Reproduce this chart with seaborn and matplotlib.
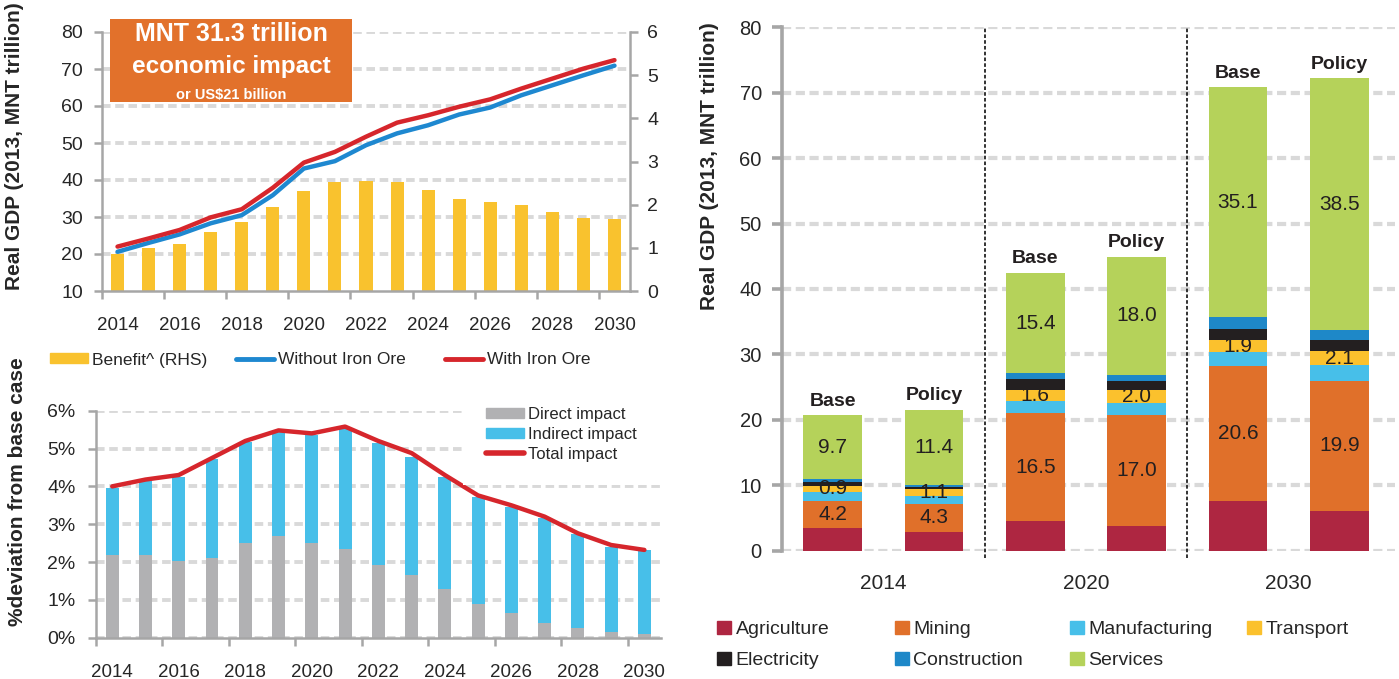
import matplotlib
matplotlib.use('Agg')
import matplotlib.pyplot as plt
from matplotlib.patches import Patch, Rectangle
from matplotlib.lines import Line2D
import seaborn as sns
import pandas as pd

# ---- data ----
years = list(range(2014, 2031))

# top left: real GDP lines (LHS) and benefit bars (RHS)
benefit_rhs = [0.86, 0.99, 1.08, 1.36, 1.60, 1.94, 2.31, 2.52, 2.55, 2.52, 2.34, 2.14, 2.07, 2.00, 1.84, 1.70, 1.67]
gdp_without_iron = [20.6, 23.0, 25.3, 28.3, 30.5, 35.9, 43.1, 45.1, 49.4, 52.6, 54.8, 57.7, 59.6, 62.9, 65.6, 68.3, 70.9]
gdp_with_iron = [22.0, 24.2, 26.5, 29.9, 32.1, 37.9, 44.7, 47.6, 51.7, 55.5, 57.5, 59.8, 61.8, 64.7, 67.4, 70.1, 72.4]

# bottom left: % deviation from base case
direct_impact = [2.18, 2.18, 2.03, 2.10, 2.49, 2.70, 2.49, 2.34, 1.91, 1.67, 1.28, 0.90, 0.66, 0.38, 0.26, 0.14, 0.11]
indirect_impact = [1.78, 1.97, 2.23, 2.62, 2.69, 2.74, 2.87, 3.19, 3.23, 3.11, 2.98, 2.83, 2.80, 2.79, 2.48, 2.27, 2.21]
total_impact = [4.00, 4.18, 4.30, 4.75, 5.20, 5.48, 5.40, 5.58, 5.20, 4.88, 4.30, 3.76, 3.50, 3.20, 2.76, 2.45, 2.32]

# right: sector composition of real GDP
group_years = ['2014', '2020', '2030']
scenarios = ['Base', 'Policy', 'Base', 'Policy', 'Base', 'Policy']
sector_names = ['Agriculture', 'Mining', 'Manufacturing', 'Transport', 'Electricity', 'Construction', 'Services']
agriculture = [3.4, 2.9, 4.5, 3.7, 7.6, 6.1]
mining = [4.2, 4.3, 16.5, 17.0, 20.6, 19.9]
manufacturing = [1.4, 1.1, 1.9, 1.8, 2.1, 2.4]
transport = [0.9, 1.1, 1.6, 2.0, 1.9, 2.1]
electricity = [0.6, 0.4, 1.7, 1.5, 1.7, 1.7]
construction = [0.5, 0.3, 0.9, 0.9, 1.8, 1.5]
services = [9.7, 11.4, 15.4, 18.0, 35.1, 38.5]
labelled_sectors = ['Mining', 'Transport', 'Services']

# ---- colours ----
YELLOW = '#F9C22E'
BLUE = '#1E88D0'
RED = '#D6262C'
GREY = '#B1B1B3'
CYAN = '#47BFE9'
ORANGE = '#E2712B'
GRID = '#D9D9D9'
SPINE = '#A6A6A6'
TXT = '#262626'
sector_colors = ['#AE2641', '#E0702A', '#47BFE9', '#FBC12D', '#231F20', '#1E88C8', '#B5D25A']

sns.set_style('white')
plt.rcParams['font.family'] = ['Liberation Sans', 'DejaVu Sans']
plt.rcParams['text.color'] = TXT

W, H = 1399, 679
fig = plt.figure(figsize=(W / 100, H / 100), dpi=100)


def px_rect(l, t, r, b):
    return [l / W, 1 - b / H, (r - l) / W, (b - t) / H]


def style_year_axis(ax):
    ax.set_xlim(years[0] - 0.5, years[-1] + 0.5)
    ax.set_xticks([y - 0.5 for y in years[::2]], labels=[''] * len(years[::2]))
    ax.set_xticks(years[::2], labels=[str(y) for y in years[::2]], minor=True)
    ax.tick_params(axis='x', which='major', length=6, width=1.8, color=SPINE, direction='out', bottom=True)
    ax.tick_params(axis='x', which='minor', length=0, pad=19, labelsize=13.5, labelcolor=TXT)


def legend_at(handles, labels, x, y, loc, size, **kw):
    # legend block pinned at a pixel position of the figure
    return fig.legend(handles, labels, loc=loc, bbox_to_anchor=(x / W, 1 - y / H),
                      borderaxespad=0, fontsize=size, **kw)


# ================= top left =================
ax_bar = fig.add_axes(px_rect(102, 32, 630, 291))
ax_line = ax_bar.twinx()
ax_bar.yaxis.tick_right()
ax_line.yaxis.tick_left()

sns.barplot(x=years, y=benefit_rhs, native_scale=True, width=0.42, color=YELLOW, saturation=1,
            linewidth=0, errorbar=None, ax=ax_bar, zorder=2)
ax_bar.set_ylim(0, 6)
ax_line.set_ylim(10, 80)
# left-axis gridlines, drawn behind the bars
for v in range(20, 81, 10):
    ax_bar.axhline((v - 10) * 6 / 70, color=GRID, lw=2.8, ls=(0, (2.2, 1.2)), zorder=0)

sns.lineplot(x=years, y=gdp_without_iron, color=BLUE, linewidth=3.2, errorbar=None, ax=ax_line,
             solid_capstyle='round')
sns.lineplot(x=years, y=gdp_with_iron, color=RED, linewidth=3.2, errorbar=None, ax=ax_line,
             solid_capstyle='round')

ax_bar.set_yticks(range(0, 7))
ax_line.set_yticks(range(10, 81, 10))
ax_bar.tick_params(axis='y', right=True, left=False, labelright=True, labelleft=False, length=5.5,
                   width=1.8, color=SPINE, pad=7, labelsize=14, labelcolor=TXT)
ax_line.tick_params(axis='y', left=True, right=False, labelleft=True, labelright=False, length=5.5,
                    width=1.8, color=SPINE, pad=8, labelsize=14, labelcolor=TXT)
style_year_axis(ax_bar)
ax_bar.set_xlabel('')
ax_bar.set_ylabel('')
ax_line.set_ylabel('')
for s in ['left', 'right', 'bottom']:
    ax_bar.spines[s].set_color(SPINE)
    ax_bar.spines[s].set_linewidth(1.8)
ax_bar.spines['top'].set_visible(False)
for s in ax_line.spines.values():
    s.set_visible(False)

top_handles = [Patch(color=YELLOW), Line2D([], [], color=BLUE, lw=3.5), Line2D([], [], color=RED, lw=3.5)]
top_labels = ['Benefit^ (RHS)', 'Without Iron Ore', 'With Iron Ore']
for h, lab, x in zip(top_handles, top_labels, [50, 236, 445]):
    legend_at([h], [lab], x, 360, 'center left', 12.5, frameon=False, borderpad=0, handlelength=2.2,
              handleheight=0.5, handletextpad=0.2)

# orange call-out box
fig.patches.append(Rectangle((110 / W, 1 - 102 / H), 242 / W, 83 / H, transform=fig.transFigure,
                             facecolor=ORANGE, edgecolor='none', zorder=3))
fig.text(231 / W, 1 - 34 / H, 'MNT 31.3 trillion', ha='center', va='center', color='white',
         fontweight='bold', fontsize=18, zorder=4)
fig.text(231 / W, 1 - 67 / H, 'economic impact', ha='center', va='center', color='white',
         fontweight='bold', fontsize=17.5, zorder=4)
fig.text(231 / W, 1 - 95 / H, 'or US\\$21 billion', ha='center', va='center', color='white',
         fontweight='bold', fontsize=10.5, zorder=4)

# ================= bottom left =================
ax_imp = fig.add_axes(px_rect(95.6, 410.7, 661, 637.7))
total_bars = [d + i for d, i in zip(direct_impact, indirect_impact)]
sns.barplot(x=years, y=total_bars, native_scale=True, width=0.39, color=CYAN, saturation=1,
            linewidth=0, errorbar=None, ax=ax_imp, zorder=2)
sns.barplot(x=years, y=direct_impact, native_scale=True, width=0.39, color=GREY, saturation=1,
            linewidth=0, errorbar=None, ax=ax_imp, zorder=2)
sns.lineplot(x=years, y=total_impact, color=RED, linewidth=3.2, errorbar=None, ax=ax_imp,
             solid_capstyle='round', zorder=3)
ax_imp.set_ylim(0, 6)
ax_imp.set_yticks(range(0, 7), labels=[f'{v}%' for v in range(0, 7)])
ax_imp.yaxis.grid(True, color=GRID, lw=2.8, ls=(0, (2.2, 1.2)))
ax_imp.set_axisbelow(True)
ax_imp.tick_params(axis='y', left=True, length=6, width=1.8, color=SPINE, pad=8.5,
                   labelsize=14, labelcolor=TXT)
style_year_axis(ax_imp)
ax_imp.set_xlabel('')
ax_imp.set_ylabel('')
for s in ['left', 'bottom']:
    ax_imp.spines[s].set_color(SPINE)
    ax_imp.spines[s].set_linewidth(1.8)
for s in ['top', 'right']:
    ax_imp.spines[s].set_visible(False)
leg = legend_at([Patch(color=GREY), Patch(color=CYAN), Line2D([], [], color=RED, lw=4)],
                ['Direct impact', 'Indirect impact', 'Total impact'], 463, 384, 'upper left', 12,
                frameon=True, facecolor='white', edgecolor='none', framealpha=1, fancybox=False,
                borderpad=1.4, handlelength=2.25, handleheight=0.55, handletextpad=0.25,
                labelspacing=0.28)
leg.set_zorder(5)

# ================= right =================
ax_gdp = fig.add_axes(px_rect(782, 27.3, 1395, 550.7))
positions = list(range(len(scenarios)))
stack = pd.DataFrame({'Agriculture': agriculture, 'Mining': mining, 'Manufacturing': manufacturing,
                      'Transport': transport, 'Electricity': electricity, 'Construction': construction,
                      'Services': services}, index=positions)
tops = stack.cumsum(axis=1)
for name, color in reversed(list(zip(sector_names, sector_colors))):
    sns.barplot(x=positions, y=tops[name].values, native_scale=True, width=0.58, color=color,
                saturation=1, linewidth=0, errorbar=None, ax=ax_gdp, zorder=2)

for i in positions:
    for name in labelled_sectors:
        val = stack.loc[i, name]
        mid = tops.loc[i, name] - val / 2
        ax_gdp.text(i, mid, f'{val:.1f}', ha='center', va='center', fontsize=15, color='#231F20',
                    zorder=4)
    ax_gdp.annotate(scenarios[i], (i, tops.loc[i, 'Services']), xytext=(0, 4), textcoords='offset points',
                    ha='center', va='bottom', fontweight='bold', fontsize=14, color='#231F20')

# dashed separators between the year groups
for g in range(2, len(positions), 2):
    ax_gdp.axvline(g - 0.5, ymin=-0.014, ymax=1, color='#222222', lw=1.3, ls=(0, (2, 1.2)),
                   clip_on=False, zorder=3)

ax_gdp.set_xlim(-0.5, 5.55)
ax_gdp.set_ylim(0, 80)
ax_gdp.set_yticks(range(0, 81, 10))
ax_gdp.set_xticks([positions[j] + 0.5 for j in range(0, len(positions), 2)], labels=group_years)
ax_gdp.tick_params(axis='x', length=0, pad=17, labelsize=15, labelcolor=TXT)
ax_gdp.tick_params(axis='y', left=True, length=7.5, width=2.6, color=SPINE, pad=7,
                   labelsize=14.5, labelcolor=TXT)
ax_gdp.yaxis.grid(True, color=GRID, lw=3, ls=(0, (2.2, 1.1)))
ax_gdp.set_axisbelow(True)
ax_gdp.set_xlabel('')
ax_gdp.set_ylabel('')
ax_gdp.spines['left'].set_color(SPINE)
ax_gdp.spines['left'].set_linewidth(2.6)
for s in ['top', 'right', 'bottom']:
    ax_gdp.spines[s].set_visible(False)

# sector legend: four columns, filled row by row
col_x = [717, 895, 1070, 1247]
for c, x in enumerate(col_x):
    idx = list(range(c, len(sector_names), len(col_x)))
    legend_at([Patch(color=sector_colors[j]) for j in idx], [sector_names[j] for j in idx], x, 621,
              'upper left', 14, frameon=False, borderpad=0, handlelength=0.7, handleheight=0.65,
              handletextpad=0.25, labelspacing=0.7)

# y axis titles
fig.text(14.5 / W, 1 - 290 / H, 'Real GDP (2013, MNT trillion)', rotation=90, ha='center', va='bottom',
         fontweight='bold', fontsize=15, color=TXT)
fig.text(17.5 / W, 1 - 492 / H, '%deviation from base case', rotation=90, ha='center', va='center',
         fontweight='bold', fontsize=15, color=TXT)
fig.text(709.5 / W, 1 - 166 / H, 'Real GDP (2013, MNT trillion)', rotation=90, ha='center', va='center',
         fontweight='bold', fontsize=15, color=TXT)

fig.savefig('out.png', dpi=100)
